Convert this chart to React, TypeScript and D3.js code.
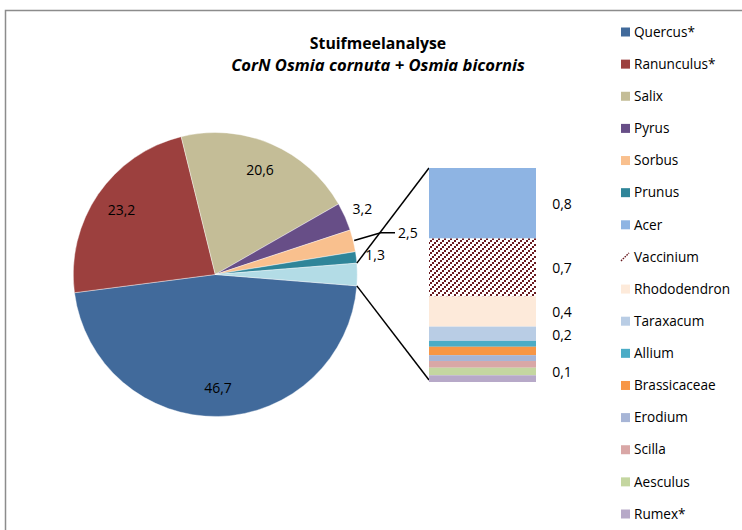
import React from "react";
import * as d3 from "d3";

// Main pie: share of pollen (%) per plant genus; the last slice groups the small ones
const pieNames = ["Quercus*", "Ranunculus*", "Salix", "Pyrus", "Sorbus", "Prunus"];
const pieValues = [46.7, 23.2, 20.6, 3.2, 2.5, 1.3];
const pieColors = ["#416a9b", "#9c403e", "#c4bd97", "#674e87", "#f9c08e", "#2f8599"];
const otherColor = "#b3dce6";

// Secondary stacked bar: the breakdown of the grouped slice
const barNames = ["Acer", "Vaccinium", "Rhododendron", "Taraxacum", "Allium", "Brassicaceae", "Erodium", "Scilla", "Aesculus", "Rumex*"];
const barValues = [0.84, 0.69, 0.36, 0.17, 0.07, 0.1, 0.07, 0.08, 0.09, 0.08];
const barColors = ["#8eb4e3", "url(#vacc)", "#fdeada", "#b9cde5", "#4bacc6", "#f79646", "#a7b5d6", "#d9a7a6", "#c4d6a0", "#b7a9c8"];
const barLabelled = ["Acer", "Vaccinium", "Rhododendron", "Taraxacum", "Aesculus"];

const titleLine1 = "Stuifmeelanalyse";
const titleLine2 = "CorN Osmia cornuta + Osmia bicornis";

const font = "'Open Sans', sans-serif";
const fmt = (v: number) => d3.format(".1f")(v).replace(".", ",");

export default function App() {
  const cx = 215.3;
  const cy = 274.5;
  const r = 142;

  const otherTotal = d3.sum(barValues);
  const allValues = [...pieValues, otherTotal];
  const total = d3.sum(allValues);
  const otherHalf = (otherTotal / total) * Math.PI; // half of the grouped slice's angle
  const start = Math.PI / 2 + otherHalf;

  const pie = d3
    .pie<number>()
    .sort(null)
    .value((d) => d)
    .startAngle(start)
    .endAngle(start + 2 * Math.PI);
  const arcs = pie(allValues);
  const arcGen = d3.arc<d3.PieArcDatum<number>>().innerRadius(0).outerRadius(r);

  const polar = (a: number, rad: number) => [cx + rad * Math.sin(a), cy - rad * Math.cos(a)];

  // stacked bar geometry
  const barX0 = 429;
  const barX1 = 536;
  const y = d3.scaleLinear().domain([0, otherTotal]).range([168, 382]);
  const cum = d3.cumsum(barValues);
  const segs = barValues.map((v, i) => ({ name: barNames[i], v, y0: cum[i] - v, y1: cum[i], color: barColors[i] }));

  // connector lines from the grouped slice to the bar
  const otherArc = arcs[arcs.length - 1];
  const pTop = polar(otherArc.startAngle, r);
  const pBot = polar(otherArc.endAngle, r);

  const legendNames = [...pieNames, ...barNames];
  const legendColors = [...pieColors, ...barColors];
  const legendY = d3.scalePoint<string>().domain(legendNames).range([32, 514]);

  return (
    <svg width={742} height={530} style={{ position: "absolute", left: 0, top: 0 }} fontFamily={font}>
      <defs>
        {/* dotted upward-diagonal hatch */}
        <pattern id="vacc" patternUnits="userSpaceOnUse" width={6} height={6}>
          <rect width={6} height={6} fill="#ffffff" />
          <g fill="#6a1b20" shapeRendering="crispEdges">
            <rect x={0} y={4} width={2} height={2} />
            <rect x={2} y={2} width={2} height={2} />
            <rect x={4} y={0} width={2} height={2} />
          </g>
        </pattern>
      </defs>
      <rect x={0} y={0} width={742} height={530} fill="#ffffff" />
      <path d="M5.5,540 L5.5,10.5 L760,10.5" fill="none" stroke="#8c8c8c" strokeWidth={1.5} />

      <text x={378} y={49} textAnchor="middle" fontSize={15.8} fontWeight="bold" fill="#000">
        {titleLine1}
      </text>
      <text x={378} y={71} textAnchor="middle" fontSize={16.6} fontWeight="bold" fontStyle="italic" fill="#000">
        {titleLine2}
      </text>

      {arcs.map((a, i) => (
        <path
          key={i}
          d={arcGen(a) as string}
          transform={`translate(${cx},${cy})`}
          fill={i < pieColors.length ? pieColors[i] : otherColor}
          stroke="#ffffff"
          strokeWidth={0.4}
        />
      ))}

      {/* labels inside the large slices, outside for the small ones */}
      {arcs.slice(0, pieValues.length).map((a, i) => {
        const mid = (a.startAngle + a.endAngle) / 2;
        const v = pieValues[i];
        if (v >= 10) {
          const [lx, ly] = polar(mid, r * 0.8);
          return (
            <text key={i} x={lx} y={ly} dy="0.35em" textAnchor="middle" fontSize={14} fill="#000">
              {fmt(v)}
            </text>
          );
        }
        if (pieNames[i] === "Sorbus") {
          const [ex, ey] = polar(mid, r + 1);
          const kx = 380.7;
          const ky = 232.7;
          return (
            <g key={i}>
              <path d={`M${ex},${ey} L${kx},${ky} L395,${ky}`} fill="none" stroke="#000" strokeWidth={1.5} />
              <text x={398} y={ky} dy="0.35em" textAnchor="start" fontSize={14} fill="#000">
                {fmt(v)}
              </text>
            </g>
          );
        }
        const [lx, ly] = polar(mid, 161);
        return (
          <text key={i} x={lx} y={ly} dy="0.35em" textAnchor="middle" fontSize={14} fill="#000">
            {fmt(v)}
          </text>
        );
      })}

      <line x1={pTop[0]} y1={pTop[1]} x2={barX0} y2={y(0)} stroke="#000" strokeWidth={1.5} />
      <line x1={pBot[0]} y1={pBot[1]} x2={barX0} y2={y(otherTotal) - 2} stroke="#000" strokeWidth={1.5} />

      {segs.map((s) => (
        <rect key={s.name} x={barX0} y={y(s.y0)} width={barX1 - barX0} height={y(s.y1) - y(s.y0)} fill={s.color} />
      ))}
      {segs
        .filter((s) => barLabelled.includes(s.name))
        .map((s) => (
          <text key={s.name} x={562} y={(y(s.y0) + y(s.y1)) / 2 + 1} dy="0.35em" textAnchor="middle" fontSize={14} fill="#000">
            {fmt(s.v)}
          </text>
        ))}

      {legendNames.map((n, i) => {
        const ly = legendY(n) as number;
        return (
          <g key={n}>
            {n === "Vaccinium" ? (
              <path d={`M621,${ly + 4} L629,${ly - 4}`} stroke="#6a1b20" strokeWidth={1.4} strokeDasharray="1.6 1" />
            ) : (
              <rect x={621} y={ly - 4.5} width={9} height={9} fill={legendColors[i]} />
            )}
            <text x={634} y={ly} dy="0.35em" fontSize={13.6} fill="#000">
              {n}
            </text>
          </g>
        );
      })}
    </svg>
  );
}
